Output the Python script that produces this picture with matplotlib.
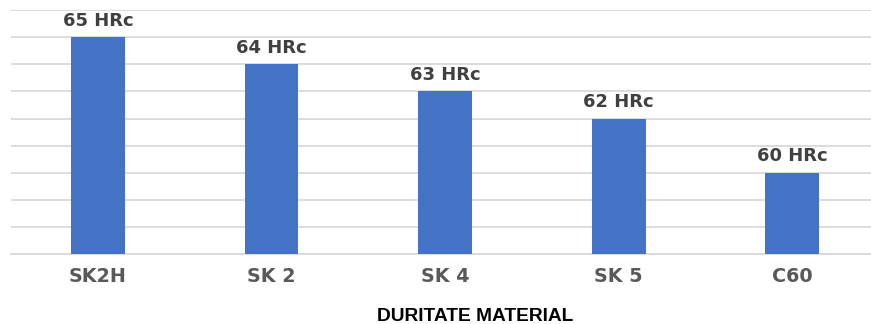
import matplotlib
matplotlib.use('Agg')
import matplotlib.pyplot as plt

materials = ['SK2H', 'SK 2', 'SK 4', 'SK 5', 'C60']
hardness = [65, 64, 63, 62, 60]
bar_labels = ['65 HRc', '64 HRc', '63 HRc', '62 HRc', '60 HRc']

plt.rcParams['font.family'] = ['DejaVu Sans']

fig = plt.figure(figsize=(8.71, 3.24), dpi=100)
ax = fig.add_axes([11 / 871, 1 - 254.3 / 324, 1 - 11 / 871, (254.3 - 10) / 324])

x = range(len(materials))
ax.bar(x, hardness, width=0.31, color='#4472C4', zorder=3)

for xi, h, lab in zip(x, hardness, bar_labels):
    ax.annotate(lab, (xi, h), xytext=(0, 8.2), textcoords='offset points',
                ha='center', va='baseline', fontsize=13, fontweight='bold',
                color='#404040')

ax.set_ylim(57, 66)
ax.set_xlim(-0.5, 4.453)
ax.set_yticks(range(57, 67))
ax.yaxis.grid(True, color='#d9d9d9', linewidth=1.3, zorder=0)
ax.set_axisbelow(True)
ax.tick_params(axis='y', left=False, labelleft=False)
ax.tick_params(axis='x', length=0, pad=9)
ax.set_xticks(list(x))
ax.set_xticklabels(materials, fontsize=13.8, fontweight='bold', color='#595959')
for s in ['top', 'right', 'left']:
    ax.spines[s].set_visible(False)
ax.spines['bottom'].set_color('#d9d9d9')
ax.spines['bottom'].set_linewidth(1.3)

fig.text(475 / 871, 1 - 321 / 324, 'DURITATE MATERIAL', ha='center', va='baseline',
         fontsize=13.8, fontweight='bold', color='black',
         family=['Liberation Sans Narrow', 'Liberation Sans', 'DejaVu Sans'])

fig.savefig('out.png', dpi=100)
